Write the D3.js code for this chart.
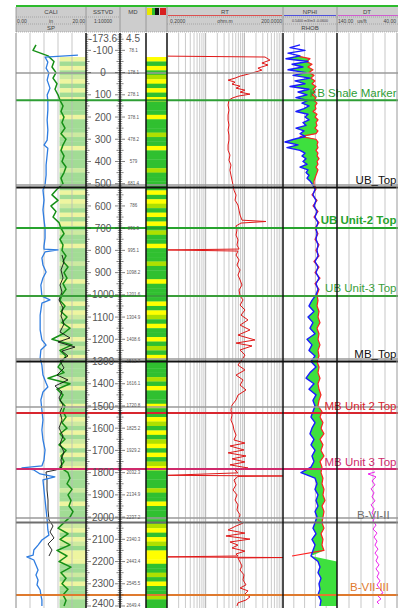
<!DOCTYPE html>
<html>
<head>
<meta charset="utf-8">
<script src="https://cdn.jsdelivr.net/npm/d3@7"></script>
<style>
  html, body { margin: 0; padding: 0; background: #fff; }
  svg { display: block; font-family: "Liberation Sans", Arial, sans-serif; }
</style>
</head>
<body>
<svg id="log" width="398" height="608"></svg>
<script>
// ---------- data ----------
const sstvdTop = -173.6, sstvdBottom = 2409, mdTop = 4.5;
const sstvdLabels = [-100, 0, 100, 200, 300, 400, 500, 600, 700, 800, 900, 1000, 1100, 1200,
  1300, 1400, 1500, 1600, 1700, 1800, 1900, 2000, 2100, 2200, 2300, 2400];
const mdLabels = [78.1, 178.1, 278.1, 378.1, 478.2, 579, 681.4, 786, 891.9, 995.1, 1098.2, 1201.6,
  1304.9, 1408.6, 1512.7, 1616.1, 1720.8, 1825.2, 1929.2, 2032.3, 2134.9, 2237.2, 2340.3, 2443.4,
  2545.5, 2649.4];

// formation tops (SSTVD, m)
const topNames = ['', 'KB Shale Marker', '', 'UB_Top', 'UB Unit-2 Top', 'UB Unit-3 Top', '', 'MB_Top',
  '', 'MB Unit 2 Top', 'MB Unit 3 Top', '', 'B-VI-II', 'B-VII-III'];
const topDepths = [2, 125, 506, 517, 699, 1005, 1289, 1300, 1505, 1532, 1784, 2004, 2024, 2350];

// SP (mV), every 25 m from -125
const spStart = -125;
const sp = [-100, -106, -76, -64, -68, -60, -66, -58, -62, -56,
  -52, -46, -50, -44, -48, -42, -50, -40, -46, -50, -44, -48, -40, -44, -50, -46,
  -58, -68, -56, -70, -60, -66, -54, -50, -44, -52, -46, -48, -40, -46, -36, -44,
  -38, -46, -40, -48, -52, -42, -50, -38, -48, -32, -46, -68, -28, -52, -40, -48,
  -56, -44, -76, -32, -58, -46, -52, -42, -46, -40, -48, -38, -52, -42, -54, -40,
  -50, -44, -52, -36, -32, -38, -28, -36, -30, -34, -26, -32, -44, -56, -36, -52,
  -32, -58, -38, -54, -30, -50, -40, -48, -36, -46, -40, -44];

// second SP trace (mV), [depth, value]
const spc = [[821, -48], [852, -44], [888, -50], [924, -46], [956, -52], [987, -48], [1023, -54],
  [1059, -46], [1095, -50], [1131, -44], [1167, -52], [1194, -32], [1212, -56], [1235, -22],
  [1253, -48], [1275, -36], [1298, -52], [1329, -44], [1361, -58], [1383, -36], [1410, -62],
  [1437, -48], [1464, -54], [1496, -46], [1527, -52], [1563, -48], [1599, -54], [1635, -46],
  [1671, -52], [1707, -44], [1743, -50], [1775, -48], [1788, -60], [1797, -80], [1833, -78],
  [1878, -78], [1923, -76], [1968, -76], [2013, -74], [2040, -66], [2067, -72], [2094, -64],
  [2121, -76], [2148, -68], [2175, -74]];

// CALI (in), [depth, value]
const cali = [[-79, 17.7], [-70, 8.3], [-47, 9.1], [-20, 8.6], [2, 9.4], [34, 8.9], [70, 9.7],
  [101, 8.9], [124, 9.1], [169, 9.1], [214, 8.9], [259, 9.1], [304, 8.9], [326, 8.0], [340, 9.1],
  [371, 8.9], [416, 8.6], [461, 8.6], [506, 8.3], [528, 7.7], [574, 8.0], [618, 7.7], [663, 8.0],
  [700, 8.3], [745, 8.3], [781, 8.0], [794, 8.0], [798, 12.0], [807, 8.3], [834, 7.4], [866, 7.7],
  [897, 8.6], [924, 7.7], [956, 7.1], [1006, 7.4], [1023, 9.7], [1037, 7.4], [1091, 6.9],
  [1158, 6.9], [1203, 7.4], [1226, 8.6], [1248, 7.1], [1284, 6.9], [1316, 7.4], [1361, 7.7],
  [1397, 8.6], [1415, 9.1], [1437, 7.7], [1473, 7.1], [1518, 7.4], [1563, 7.7], [1608, 7.4],
  [1653, 7.7], [1698, 8.3], [1743, 8.0], [1770, 7.4], [1779, 1.7], [1788, 5.1], [1806, 6.9],
  [1819, 11.1], [1833, 7.7], [1878, 8.0], [1923, 8.3], [1968, 8.6], [2013, 8.9], [2058, 9.1],
  [2081, 9.4], [2103, 7.4], [2126, 6.3], [2148, 5.1], [2171, 4.9], [2179, 3.1], [2193, 5.1],
  [2215, 5.7], [2238, 6.3], [2260, 5.7], [2283, 6.3], [2305, 6.0], [2328, 6.9], [2350, 7.1],
  [2373, 7.4], [2400, 7.4]];

// RT (ohm.m), [depth, value]
const rt = [[-74, 0.21], [-70, 68.5], [-56, 92], [-43, 57], [-34, 82], [-20, 45], [-11, 57], [-2, 38],
  [7, 25], [16, 15.5], [25, 11.5], [34, 7.6], [43, 11.5], [52, 9.6], [61, 15.5], [70, 12.2], [79, 20.8],
  [88, 15.5], [97, 28], [106, 13.7], [115, 9.6], [124, 8.0], [146, 7.6], [169, 8.0], [191, 7.6],
  [214, 7.6], [236, 8.0], [259, 7.6], [281, 8.0], [304, 8.0], [326, 7.6], [349, 7.6], [371, 8.5],
  [394, 8.0], [416, 9.0], [439, 8.5], [461, 9.0], [484, 9.6], [506, 10.2], [529, 10.8], [551, 12.2],
  [574, 11.5], [596, 13.7], [619, 14.6], [641, 15.5], [664, 17.4], [670, 72.7], [677, 16.4],
  [690, 12.2], [708, 12.9], [731, 12.2], [753, 13.7], [776, 12.9], [794, 14.6], [798, 0.21],
  [803, 13.7], [821, 12.2], [843, 14.6], [866, 12.9], [888, 15.5], [911, 13.7], [933, 15.5],
  [956, 17.4], [978, 14.6], [1005, 15.5], [1023, 18.5], [1046, 15.5], [1068, 20.8], [1091, 16.4],
  [1113, 24.9], [1136, 15.5], [1158, 28], [1181, 13.7], [1203, 37.7], [1217, 12.2], [1230, 31.6],
  [1248, 15.5], [1271, 20.8], [1298, 16.4], [1316, 13.7], [1338, 20.8], [1361, 12.2], [1383, 18.5],
  [1406, 15.5], [1428, 22.1], [1451, 13.7], [1473, 12.2], [1496, 9.6], [1518, 9.0], [1541, 9.6],
  [1563, 9.0], [1586, 10.2], [1608, 10.8], [1631, 12.2], [1653, 10.8], [1667, 20.8], [1680, 8.5],
  [1698, 19.6], [1711, 7.6], [1725, 22.1], [1738, 9.6], [1752, 20.8], [1765, 8.5], [1779, 24.9],
  [1788, 11.5], [1801, 13.7], [1812, 0.21], [1815, 200], [1817, 13.7], [1833, 10.8], [1855, 12.2],
  [1878, 10.2], [1900, 12.9], [1923, 11.5], [1945, 13.7], [1968, 12.9], [1990, 15.5], [2013, 13.7],
  [2027, 18.5], [2040, 12.2], [2058, 7.6], [2072, 20.8], [2085, 6.7], [2099, 28], [2112, 8.5],
  [2126, 13.7], [2139, 9.6], [2153, 20.8], [2166, 12.2], [2175, 13.7], [2179, 0.21], [2182, 200],
  [2184, 13.7], [2202, 15.5], [2220, 17.4], [2238, 15.5], [2260, 19.6], [2283, 18.5], [2305, 22.1],
  [2319, 15.5], [2332, 24.9], [2346, 20.8], [2359, 28], [2373, 22.1], [2386, 13.7], [2400, 12.9]];

// NPHI (m3/m3) and RHOB (g/cc): 12.5 m samples from -125 to 487.5, then 25 m samples to 2400
const ndDepth = d3.range(-125, 500, 12.5).concat(d3.range(500, 2401, 25));
const nphi = [
  0.351, 0.462, 0.296, 0.484, 0.351, 0.507, 0.262, 0.44, 0.318, 0.484,          // -125 .. -12.5
  0.284, 0.429, 0.24, 0.407, 0.296, 0.462, 0.251, 0.373, 0.273, 0.396,          // 0 .. 112.5
  0.262, 0.329, 0.251, 0.307, 0.396, 0.262, 0.296, 0.251, 0.318, 0.284,        // 125 .. 237.5
  0.396, 0.307, 0.351, 0.296, 0.418, 0.518, 0.373, 0.496, 0.351, 0.296,        // 250 .. 362.5
  0.329, 0.284, 0.318, 0.273, 0.351, 0.262, 0.284, 0.251, 0.273, 0.24,         // 375 .. 487.5
  0.218, 0.184, 0.207, 0.173, 0.196, 0.162, 0.184, 0.151,                      // 500 .. 675
  0.173, 0.162, 0.173, 0.151, 0.162, 0.151, 0.184, 0.151,                      // 700 .. 875
  0.173, 0.14, 0.173, 0.151, 0.173, 0.218, 0.251, 0.196,                       // 900 .. 1075
  0.262, 0.207, 0.24, 0.184, 0.273, 0.218, 0.251, 0.184,                       // 1100 .. 1275
  0.229, 0.173, 0.24, 0.284, 0.196, 0.251, 0.173, 0.207,                       // 1300 .. 1475
  0.184, 0.207, 0.229, 0.184, 0.218, 0.24, 0.196, 0.229,                       // 1500 .. 1675
  0.184, 0.218, 0.196, 0.229, 0.34, 0.184, 0.162, 0.184,                       // 1700 .. 1875
  0.151, 0.173, 0.151, 0.184, 0.162, 0.184, 0.207, 0.173,                      // 1900 .. 2075
  0.218, 0.184, 0.207, 0.229, 0.151, 0.129, 0.151, 0.118,                      // 2100 .. 2275
  0.14, 0.129, 0.151, 0.118, 0.129];                                           // 2300 .. 2400
const rhob = [
  null, null, null, null, 2.191, 2.45, 2.376, 2.487, 2.413, 2.506,             // -125 .. -12.5
  2.431, 2.524, 2.469, 2.543, 2.487, 2.561, 2.506, 2.543, 2.487, 2.561,        // 0 .. 112.5
  2.524, 2.58, 2.543, 2.561, 2.506, 2.58, 2.543, 2.598, 2.561, 2.58,           // 125 .. 237.5
  2.543, 2.598, 2.561, 2.265, 2.561, 2.598, 2.58, 2.598, 2.561, 2.598,         // 250 .. 362.5
  2.58, 2.617, 2.58, 2.598, 2.561, 2.598, 2.58, 2.561, 2.543, 2.524,           // 375 .. 487.5
  2.524, 2.561, 2.487, 2.58, 2.506, 2.598, 2.524, 2.617,                       // 500 .. 675
  2.543, 2.598, 2.543, 2.617, 2.561, 2.617, 2.524, 2.617,                      // 700 .. 875
  2.543, 2.635, 2.543, 2.617, 2.58, 2.598, 2.58, 2.617,                        // 900 .. 1075
  2.598, 2.635, 2.58, 2.617, 2.598, 2.635, 2.598, 2.617,                       // 1100 .. 1275
  2.58, 2.617, 2.598, 2.635, 2.598, 2.617, 2.654, 2.617,                       // 1300 .. 1475
  2.598, 2.672, 2.635, 2.69, 2.654, 2.709, 2.635, 2.69,                        // 1500 .. 1675
  2.654, 2.709, 2.635, 2.672, 2.654, 2.69, 2.672, 2.709,                       // 1700 .. 1875
  2.69, 2.728, 2.672, 2.709, 2.69, 2.672, 2.709, 2.654,                        // 1900 .. 2075
  2.69, 2.672, 2.709, 2.117, null, null, null, null,                           // 2100 .. 2275
  null, null, null, null, null];                                               // 2300 .. 2400

// DT (us/ft), [depth, value]
const dt = [[1797, 76.7], [1806, 88.3], [1819, 75], [1837, 81.7], [1855, 76.7], [1873, 83.3],
  [1891, 78.3], [1909, 81.7], [1927, 76.7], [1945, 83.3], [1963, 78.3], [1981, 81.7], [1999, 76.7],
  [2018, 80], [2036, 75], [2054, 80], [2072, 73.3], [2090, 78.3], [2108, 73.3], [2126, 76.7],
  [2144, 71.7], [2162, 76.7], [2179, 71.7], [2197, 75], [2215, 70], [2233, 75], [2251, 70],
  [2269, 73.3], [2287, 68.3], [2305, 73.3], [2323, 68.3], [2341, 63.3], [2355, 71.7], [2368, 66.7],
  [2382, 73.3], [2391, 70]];

// lithology (0 = sand / yellow, 1 = shale / green), every 20 m from -70
const lithStart = -70;
const lith = [0, 1, 0, 1, 0.5, 0, 1, 0, 1, 0, 1,
  1, 1, 0, 1, 1, 1, 0.5, 1, 1, 0, 1, 1, 1, 1, 0.5, 1, 1, 1, 1,
  0, 1, 0, 0.5, 1, 0, 1, 0, 1, 0.5,
  1, 1, 0, 1, 1, 1, 0.5, 1, 1, 1, 0, 1, 1, 1, 1,
  0, 1, 0, 0.5, 1, 0, 1, 1, 0, 1, 0.5, 1, 0, 1, 1,
  1, 1, 0.5, 1, 0, 1, 1, 1, 0, 1, 1,
  0, 0.5, 1, 0, 1, 0.5, 0, 1, 0, 1, 0.5, 0, 1,
  1, 1, 1, 0.5, 1, 1, 0, 1, 1, 1, 1,
  0.5, 0, 1, 0, 0.5, 1, 0, 0, 0, 1,
  1, 0.5, 1, 0, 1, 1, 0.5, 1, 1, 1];

// ---------- layout / style ----------
const W = 398, H = 608, dataTop = 33;
const trk = { t1: [16, 86], sstvd: [86, 120], md: [120, 146], lith: [146, 167],
  rt: [167, 283], nd: [283, 337], dt: [337, 397] };
// label: anchored at the right edge unless a start x is given
const topStyle = {
  '': { color: '#9a9a9a', w: 1.5 },
  'KB Shale Marker': { color: '#2e9e35', w: 2 },
  'UB_Top': { color: '#111', w: 2 },
  'UB Unit-2 Top': { color: '#27a32e', w: 2, bold: true },
  'UB Unit-3 Top': { color: '#3a9e3a', w: 2 },
  'MB_Top': { color: '#111', w: 2 },
  'MB Unit 2 Top': { color: '#d8262f', w: 2 },
  'MB Unit 3 Top': { color: '#cf2a6c', w: 2 },
  'B-VI-II': { color: '#6e6e6e', w: 2, lx: 357 },
  'B-VII-III': { color: '#df7a2e', w: 2, lx: 350 }
};

const svg = d3.select('#log');
const defs = svg.append('defs');
const y = d3.scaleLinear().domain([sstvdTop, sstvdBottom]).range([34, 608]);

const xCali = d3.scaleLinear().domain([0, 20]).range(trk.t1);
const xSp = d3.scaleLinear().domain([-140, 0]).range(trk.t1);
const xRt = d3.scaleLog().domain([0.2, 200]).range(trk.rt);
const xNphi = d3.scaleLinear().domain([0.54, -0.06]).range(trk.nd);
const xRhob = d3.scaleLinear().domain([1.95, 2.95]).range(trk.nd);
const xDt = d3.scaleLinear().domain([140, 40]).range(trk.dt);
const lithColor = d3.scaleLinear().domain([0, 0.5, 1]).range(['#ffff00', '#aee000', '#30c030']);
const lithPale = d3.scaleLinear().domain([0, 0.5, 1]).range(['#eef5a0', '#cdeaa0', '#a2dc95']);

function clip(id, t) {
  defs.append('clipPath').attr('id', id).append('rect')
    .attr('x', t[0]).attr('y', dataTop).attr('width', t[1] - t[0]).attr('height', H - dataTop);
  return `url(#${id})`;
}
const clipT1 = clip('c1', trk.t1), clipRt = clip('c2', trk.rt), clipNd = clip('c3', trk.nd), clipDt = clip('c4', trk.dt);

const grid = (start, step, vals) => vals.map((v, i) => [start + i * step, v]);

// ---------- backgrounds ----------
const lithPts = grid(lithStart, 20, lith);
svg.append('g').selectAll('rect').data(lithPts).join('rect')
  .attr('x', trk.lith[0]).attr('width', trk.lith[1] - trk.lith[0])
  .attr('y', d => y(d[0])).attr('height', y(20) - y(0) + 0.3)
  .attr('fill', d => lithColor(d[1]));
svg.append('g').attr('clip-path', clipT1).selectAll('rect').data(lithPts).join('rect')
  .attr('x', xSp(-53)).attr('width', trk.t1[1] - xSp(-53))
  .attr('y', d => y(d[0])).attr('height', y(20) - y(0) + 0.3)
  .attr('fill', d => lithPale(d[1]));

// ---------- grids ----------
const gridG = svg.append('g').attr('stroke', '#b9b9b9').attr('stroke-width', 0.8);
[1, 2, 3, 4].forEach(i => {
  const xs = [trk.t1[0] + i * 14, trk.nd[0] + i * 10.8, trk.dt[0] + i * 12];
  xs.forEach(x => gridG.append('line').attr('x1', x).attr('x2', x).attr('y1', dataTop).attr('y2', H));
});
[0.2, 2, 20].forEach(base => {
  d3.range(2, 10).forEach(k => {
    const x = xRt(base * k);
    gridG.append('line').attr('x1', x).attr('x2', x).attr('y1', dataTop).attr('y2', H)
      .attr('stroke', '#c4c4c4').attr('stroke-width', 0.9);
  });
});
[2, 20].forEach(v => gridG.append('line').attr('x1', xRt(v)).attr('x2', xRt(v))
  .attr('y1', dataTop).attr('y2', H).attr('stroke', '#999'));

// ---------- curves ----------
function curve(pts, xs, color, width, clipPath) {
  svg.append('path').datum(pts)
    .attr('clip-path', clipPath).attr('fill', 'none').attr('stroke', color)
    .attr('stroke-width', width).attr('stroke-linejoin', 'round')
    .attr('d', d3.line().defined(d => d[1] != null).x(d => xs(d[1])).y(d => y(d[0])));
}

// neutron-density crossover fill
const nd = nphi.map((v, i) => ({ d: ndDepth[i], n: v, r: rhob[i] }));
svg.append('path').datum(nd).attr('clip-path', clipNd).attr('fill', '#3ee03e')
  .attr('d', d3.area().y(p => y(p.d)).x0(p => xNphi(p.n))
    .x1(p => p.r == null ? (p.d > 2000 ? trk.nd[1] : xNphi(p.n)) : Math.max(xNphi(p.n), xRhob(p.r))));

curve(grid(spStart, 25, sp), xSp, '#169016', 1.5, clipT1);
curve(spc, xSp, '#111', 0.9, clipT1);
curve(cali, xCali, '#2f7de0', 1.3, clipT1);
curve(rt, xRt, '#e01818', 1, clipRt);
curve(nd.map(p => [p.d, p.r]), xRhob, '#ff2020', 1.2, clipNd);
curve(nd.map(p => [p.d, p.n]), xNphi, '#1a1aff', 1.4, clipNd);
curve(dt, xDt, '#ee22ee', 1, clipDt);

// ---------- formation tops ----------
const topsG = svg.append('g');
topNames.forEach((name, i) => {
  const s = topStyle[name];
  const yy = y(topDepths[i]);
  topsG.append('line').attr('x1', trk.t1[0]).attr('x2', W).attr('y1', yy).attr('y2', yy)
    .attr('stroke', s.color).attr('stroke-width', s.w);
  if (name) {
    topsG.append('text').attr('x', s.lx || W - 1.5).attr('y', yy - 3.5).attr('font-size', 11.5)
      .attr('text-anchor', s.lx ? 'start' : 'end')
      .attr('font-weight', s.bold ? 'bold' : 'normal').attr('fill', s.color).text(name);
  }
});

// ---------- depth tracks ----------
const ruler = svg.append('g').attr('stroke', '#333').attr('stroke-width', 0.6);
d3.range(-170, 2410, 10).forEach(d => {
  const len = d % 100 === 0 ? 5 : d % 50 === 0 ? 3.5 : 2.2;
  const yy = y(d);
  ruler.append('line').attr('x1', trk.sstvd[0]).attr('x2', trk.sstvd[0] + len).attr('y1', yy).attr('y2', yy);
  ruler.append('line').attr('x1', trk.md[0] - len).attr('x2', trk.md[0] + len).attr('y1', yy).attr('y2', yy);
});
svg.append('g').selectAll('text').data(sstvdLabels).join('text')
  .attr('x', 103).attr('y', d => Math.min(y(d) + 3.6, H - 1)).attr('text-anchor', 'middle')
  .attr('font-size', 10).attr('fill', '#555').text(d => d);
svg.append('g').selectAll('text').data(mdLabels).join('text')
  .attr('x', 133.5).attr('y', (d, i) => Math.min(y(sstvdLabels[i]) + 1.5, H - 1)).attr('text-anchor', 'middle')
  .attr('font-size', 4.5).attr('fill', '#555').text(d => d);
svg.append('text').attr('x', 103).attr('y', 42).attr('text-anchor', 'middle').attr('font-size', 10)
  .attr('fill', '#555').text(sstvdTop);
svg.append('text').attr('x', 133).attr('y', 42).attr('text-anchor', 'middle').attr('font-size', 10)
  .attr('fill', '#555').text(mdTop);

// ---------- borders ----------
const borders = svg.append('g');
[[trk.t1[0], '#888', 1], [trk.t1[1], '#111', 1.5], [trk.md[0], '#111', 1.5], [trk.lith[0], '#111', 1.5],
 [trk.rt[0], '#111', 1.5], [trk.nd[0], '#111', 1.5], [trk.dt[0], '#111', 1.5], [trk.dt[1], '#999', 1]]
  .forEach(([x, c, w]) => borders.append('line').attr('x1', x).attr('x2', x)
    .attr('y1', dataTop).attr('y2', H).attr('stroke', c).attr('stroke-width', w));

// ---------- header ----------
const hd = svg.append('g');
hd.append('rect').attr('x', 16).attr('y', 7).attr('width', W - 16).attr('height', 25).attr('fill', '#cdcdcd');
hd.append('rect').attr('x', 16).attr('y', 5).attr('width', W - 16).attr('height', 2).attr('fill', '#2dbb2d');
[16, 86, 120, 146, 167, 283, 337].forEach(x => hd.append('line').attr('x1', x).attr('x2', x)
  .attr('y1', 7).attr('y2', 32).attr('stroke', '#8a8a8a').attr('stroke-width', 0.8));
[[16, 120, 17], [167, W, 17], [16, 86, 24], [167, W, 24], [16, W, 32]].forEach(([a, b, yy]) =>
  hd.append('line').attr('x1', a).attr('x2', b).attr('y1', yy).attr('y2', yy)
    .attr('stroke', '#8a8a8a').attr('stroke-width', 0.6).attr('stroke-dasharray', '1,1'));
const ht = (x, yy, txt, size, anchor = 'middle') => hd.append('text').attr('x', x).attr('y', yy)
  .attr('font-size', size).attr('text-anchor', anchor).attr('fill', '#444').text(txt);
ht(51, 14, 'CALI', 6); ht(17, 22.5, '0.00', 5, 'start'); ht(51, 22.5, 'in', 5); ht(85, 22.5, '20.00', 5, 'end');
ht(51, 30, 'SP', 6);
ht(103, 14, 'SSTVD', 6); ht(103, 22.5, '1:10000', 5);
ht(133, 14, 'MD', 6);
ht(225, 13.5, 'RT', 6); ht(170, 22.5, '0.2000', 5, 'start'); ht(225, 22.5, 'ohm.m', 5); ht(282, 22.5, '200.0000', 5, 'end');
ht(310, 13.5, 'NPHI', 6); ht(310, 22.3, '0.5400  m3/m3  -0.0600', 3.6); ht(310, 30, 'RHOB', 6);
ht(367, 13.5, 'DT', 6); ht(338, 22.5, '140.00', 5, 'start'); ht(362, 22.5, 'us/ft', 5); ht(396, 22.5, '40.00', 5, 'end');
[[168, 282, '#e03030'], [284, 336, '#3030e0'], [338, W, '#d040d0']].forEach(([a, b, c]) =>
  hd.append('line').attr('x1', a).attr('x2', b).attr('y1', 15.5).attr('y2', 15.5)
    .attr('stroke', c).attr('stroke-width', 0.8));
[[147, 5, '#e8e800'], [152, 3, '#2fbf2f'], [155, 4, '#111'], [160, 6, '#d82020']].forEach(([x, w, c]) =>
  hd.append('rect').attr('x', x).attr('y', 8).attr('width', w).attr('height', 7).attr('fill', c));
</script>
</body>
</html>
